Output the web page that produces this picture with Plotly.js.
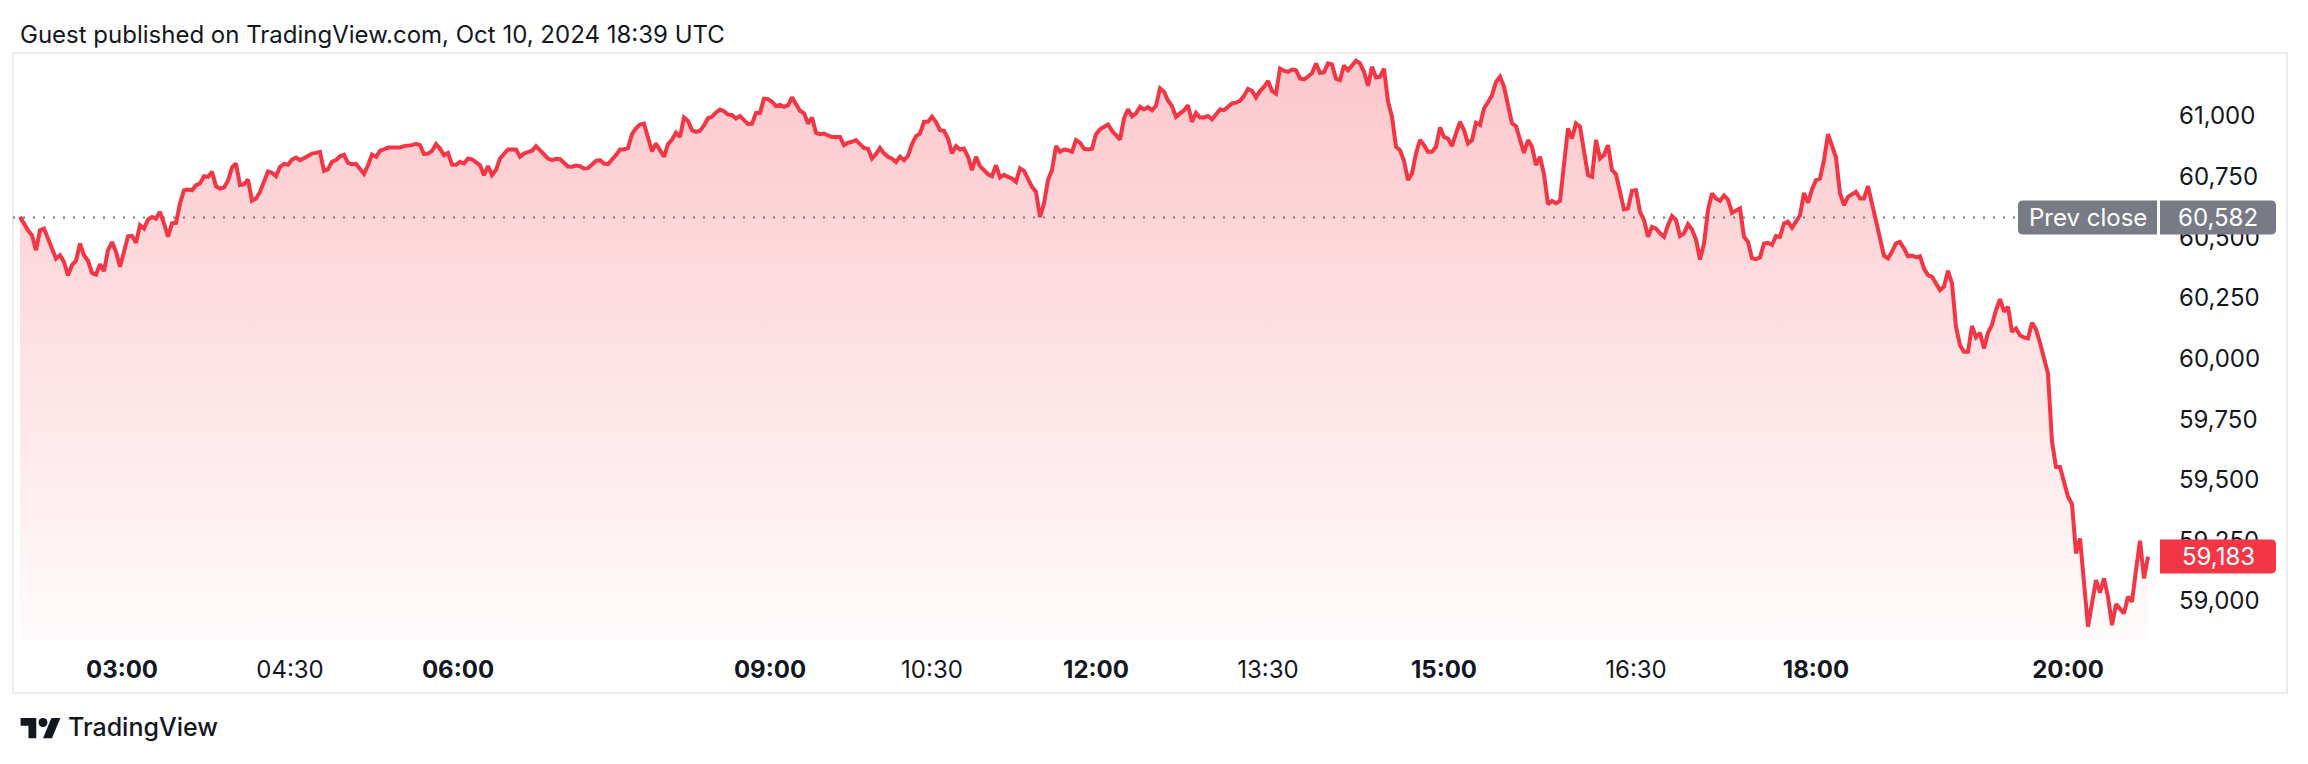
<!DOCTYPE html>
<html>
<head>
<meta charset="utf-8">
<script src="https://cdn.plot.ly/plotly-3.0.1.min.js"></script>
<style>
  html, body { margin: 0; padding: 0; background: #ffffff; }
  #chart { width: 2308px; height: 764px; }
</style>
</head>
<body>
<div id="chart"></div>
<script>
// ---------------- DATA ----------------
const titleText = "Guest published on TradingView.com, Oct 10, 2024 18:39 UTC";
const prevClose = 60582;

// BTC price, evenly spaced samples across the session
const price = [
  60584, 60552, 60529, 60508, 60447, 60529, 60536, 60495, 60449, 60412,
  60426, 60398, 60343, 60385, 60403, 60474, 60426, 60403, 60353, 60346,
  60389, 60360, 60447, 60480, 60440, 60378, 60440, 60504, 60506, 60477,
  60550, 60536, 60573, 60584, 60577, 60605, 60557, 60502, 60557, 60559,
  60639, 60694, 60697, 60694, 60715, 60722, 60752, 60749, 60770, 60711,
  60701, 60705, 60733, 60788, 60804, 60715, 60719, 60738, 60650, 60660,
  60687, 60735, 60771, 60766, 60752, 60790, 60803, 60799, 60820, 60829,
  60818, 60826, 60836, 60845, 60848, 60852, 60774, 60781, 60811, 60818,
  60834, 60840, 60807, 60801, 60803, 60783, 60761, 60797, 60841, 60832,
  60856, 60863, 60870, 60870, 60870, 60870, 60876, 60877, 60880, 60885,
  60880, 60843, 60845, 60856, 60884, 60866, 60838, 60848, 60800, 60799,
  60811, 60804, 60825, 60821, 60808, 60797, 60756, 60794, 60756, 60777,
  60825, 60845, 60862, 60862, 60862, 60832, 60845, 60851,
  60857, 60876, 60859, 60840, 60825, 60818, 60824, 60822, 60809, 60792,
  60791, 60796, 60793, 60784, 60785, 60799, 60815, 60818, 60804, 60802,
  60818, 60839, 60862, 60862, 60868, 60925, 60949, 60965, 60969, 60907,
  60854, 60887, 60859, 60832, 60884, 60903, 60931, 60914, 60994, 60980,
  60942, 60935, 60939, 60961, 60991, 60997, 61015, 61027, 61020, 61006,
  61004, 60990, 61000, 60983, 60967, 60968, 61013, 61013, 61072, 61070,
  61059, 61041, 61046, 61038, 61044, 61077, 61052, 61022, 61011, 60969,
  60994, 60931, 60925, 60928, 60920, 60914, 60914, 60914, 60880, 60890,
  60894, 60901, 60884, 60868, 60865, 60825, 60843, 60868, 60846, 60832,
  60824, 60810, 60832, 60818, 60836, 60884, 60917, 60927, 60976, 60976,
  60997, 60975, 60942, 60939, 60907, 60846, 60876, 60862, 60866, 60832,
  60777, 60832, 60793, 60774, 60760, 60752, 60797, 60747, 60758, 60749,
  60742, 60729, 60784, 60774, 60736, 60708, 60687, 60584,
  60639, 60736, 60777, 60876, 60852, 60862, 60859, 60852, 60901, 60890,
  60865, 60862, 60865, 60925, 60945, 60956, 60965, 60939, 60920, 60903,
  60990, 61028, 60999, 61011, 61038, 61027, 61037, 61024, 61042, 61114,
  61100, 61064, 61041, 60997, 61011, 61024, 61045, 60976, 61013, 60994,
  60994, 61000, 60986, 61008, 61027, 61024, 61038, 61052, 61055, 61063,
  61082, 61112, 61104, 61077, 61103, 61120, 61144, 61104, 61093, 61196,
  61187, 61182, 61192, 61189, 61155, 61151, 61163, 61176, 61217, 61178,
  61181, 61217, 61213, 61154, 61148, 61208, 61189, 61206, 61228, 61217,
  61182, 61125, 61203, 61159, 61162, 61195, 61060, 60997, 60873, 60859,
  60815, 60736, 60763, 60846, 60901, 60880, 60853, 60853, 60873, 60953,
  60914, 60907, 60876, 60928, 60976, 60942, 60887, 60901, 60972, 60963,
  61031, 61057, 61086, 61141, 61162, 61121, 61045, 60970, 60958, 60901,
  60848, 60901, 60873, 60798, 60832, 60760, 60636, 60650, 60640, 60650,
  60784, 60949, 60907, 60969, 60956, 60852, 60756, 60749, 60901, 60825,
  60839, 60880, 60777, 60760, 60687, 60615, 60619, 60692, 60694, 60605,
  60571, 60502, 60543, 60536, 60516, 60502, 60550, 60588, 60571, 60505,
  60516, 60554, 60532, 60491, 60408, 60474, 60612, 60681, 60660, 60650,
  60672, 60656, 60601, 60612, 60619, 60502, 60481, 60413, 60410, 60417,
  60474, 60477, 60468, 60505, 60502, 60557, 60564, 60539, 60564, 60591,
  60683, 60642, 60697, 60736, 60742, 60818, 60925, 60876, 60829, 60681,
  60633, 60667, 60678, 60688, 60660, 60660, 60711, 60642, 60557, 60488,
  60424, 60413, 60440, 60475, 60481, 60454, 60422, 60425, 60417, 60422,
  60371, 60344, 60337, 60310, 60282, 60296, 60362, 60310, 60131, 60055,
  60028, 60028, 60134, 60087, 60106, 60041, 60106, 60139, 60200, 60245,
  60193, 60213, 60110, 60124, 60096, 60087, 60083, 60147, 60120, 60065,
  60007, 59938, 59657, 59553, 59553, 59498, 59430, 59400, 59196, 59258,
  59072, 58894, 58990, 59086, 59034, 59093, 59017, 58900, 58987, 58969,
  58949, 59017, 58997, 59127, 59248, 59093, 59183
];

// time labels and the sample index at which each falls
const timeLabels = ["03:00", "04:30", "06:00", "09:00", "10:30", "12:00", "13:30", "15:00", "16:30", "18:00", "20:00"];
const timeIndex  = [25.5, 67.5, 109.5, 187.5, 228, 269, 312, 356, 404, 449, 512];

// price scale ticks
const priceTicks = [59000, 59250, 59500, 59750, 60000, 60250, 60500, 60750, 61000];

// ---------------- LAYOUT HELPERS ----------------
const W = 2308, H = 764;
const L = 13, R = 2158, T = 53, B = 640;
const PW = R - L, PH = B - T;
const px = x => (x - L) / PW;
const py = y => (B - y) / PH;
const fmt = v => v.toLocaleString('en-US');

const RED = '#F23645';
const GRAY = '#787B86';
const TXT = '#131722';
const FONT = 'Inter, "Noto Sans", Roboto, sans-serif';

const idx = price.map((_, i) => i);
const lastVal = price[price.length - 1];

function rrect(x0, x1, h, rl, rr) {
  const y0 = -h / 2, y1 = h / 2;
  return `M ${x0 + rl},${y0} L ${x1 - rr},${y0} Q ${x1},${y0} ${x1},${y0 + rr} ` +
         `L ${x1},${y1 - rr} Q ${x1},${y1} ${x1 - rr},${y1} L ${x0 + rl},${y1} ` +
         `Q ${x0},${y1} ${x0},${y1 - rl} L ${x0},${y0 + rl} Q ${x0},${y0} ${x0 + rl},${y0} Z`;
}

// TradingView logo (absolute coords of the 36x28 glyph)
const LS = 1.12;
const logoPolys = [
  [[14,22],[7,22],[7,11],[0,11],[0,4],[14,4]],
  [[28,22],[20,22],[27.5,4],[35.5,4]]
];
const logoPath = logoPolys.map(poly =>
  'M ' + poly.map(p => `${(p[0]*LS).toFixed(2)},${(-p[1]*LS).toFixed(2)}`).join(' L ') + ' Z'
).join(' ');
const logoX = 20.6, logoY = 713.5;

const trace = {
  x: idx,
  y: price,
  type: 'scatter',
  mode: 'lines',
  line: { color: RED, width: 4 },
  fill: 'tozeroy',
  fillgradient: {
    type: 'vertical',
    start: 58839,
    stop: 61260,
    colorscale: [[0, 'rgba(242,54,69,0.02)'], [1, 'rgba(242,54,69,0.28)']]
  },
  hoverinfo: 'skip'
};

const layout = {
  width: W, height: H,
  margin: { l: L, r: W - R, t: T, b: H - B, pad: 0 },
  paper_bgcolor: '#ffffff',
  plot_bgcolor: 'rgba(0,0,0,0)',
  showlegend: false,
  font: { family: FONT, size: 24, color: TXT },
  xaxis: {
    range: [(L - 20) / 4, (R - 20) / 4],
    showgrid: false, zeroline: false, showline: false, ticks: '',
    tickmode: 'array',
    tickvals: timeIndex,
    ticktext: timeLabels.map(t => t.endsWith(':00') ? `<b>${t}</b>` : t),
    tickfont: { family: FONT, size: 24, color: TXT },
    ticklabelstandoff: 13,
    fixedrange: true
  },
  yaxis: {
    side: 'right',
    range: [58839, 61260],
    showgrid: false, zeroline: false, showline: false, ticks: '',
    tickmode: 'array',
    tickvals: priceTicks,
    ticktext: priceTicks.map(fmt),
    tickfont: { family: FONT, size: 24, color: TXT },
    ticklabelstandoff: 20,
    fixedrange: true
  },
  shapes: [
    // outer frame
    { type: 'rect', xref: 'paper', yref: 'paper', x0: px(13), x1: px(2287), y0: py(693), y1: py(53),
      line: { color: '#E9EBF1', width: 2 }, fillcolor: 'rgba(0,0,0,0)', layer: 'below' },
    // previous close dotted line
    { type: 'line', xref: 'paper', yref: 'y', x0: 0, x1: px(2018), y0: prevClose, y1: prevClose,
      line: { color: GRAY, width: 2, dash: '2px,8px' }, layer: 'below' },
    // prev close label boxes
    { type: 'path', xref: 'paper', yref: 'y', xsizemode: 'pixel', ysizemode: 'pixel',
      xanchor: 1, yanchor: prevClose, path: rrect(-140, -1, 34, 5, 0),
      fillcolor: GRAY, line: { width: 0 }, layer: 'above' },
    { type: 'path', xref: 'paper', yref: 'y', xsizemode: 'pixel', ysizemode: 'pixel',
      xanchor: 1, yanchor: prevClose, path: rrect(2, 118, 34, 0, 5),
      fillcolor: GRAY, line: { width: 0 }, layer: 'above' },
    // last value box
    { type: 'path', xref: 'paper', yref: 'y', xsizemode: 'pixel', ysizemode: 'pixel',
      xanchor: 1, yanchor: lastVal, path: rrect(2, 118, 34, 0, 5),
      fillcolor: RED, line: { width: 0 }, layer: 'above' },
    // logo glyph
    { type: 'path', xref: 'paper', yref: 'paper', xsizemode: 'pixel', ysizemode: 'pixel',
      xanchor: px(logoX), yanchor: py(logoY), path: logoPath,
      fillcolor: TXT, line: { width: 0 }, layer: 'above' },
    { type: 'circle', xref: 'paper', yref: 'paper', xsizemode: 'pixel', ysizemode: 'pixel',
      xanchor: px(logoX), yanchor: py(logoY),
      x0: 16 * LS, x1: 24 * LS, y0: -4 * LS, y1: -12 * LS,
      fillcolor: TXT, line: { width: 0 }, layer: 'above' }
  ],
  annotations: [
    { text: titleText, xref: 'paper', yref: 'paper', x: px(18), y: py(35),
      xanchor: 'left', yanchor: 'middle', showarrow: false,
      font: { family: FONT, size: 24, color: TXT } },
    { text: 'Prev close', xref: 'paper', yref: 'y', x: px(2088), y: prevClose,
      xanchor: 'center', yanchor: 'middle', showarrow: false,
      font: { family: FONT, size: 24, color: '#ffffff' } },
    { text: fmt(prevClose), xref: 'paper', yref: 'y', x: px(2218), y: prevClose,
      xanchor: 'center', yanchor: 'middle', showarrow: false,
      font: { family: FONT, size: 24, color: '#ffffff' } },
    { text: fmt(lastVal), xref: 'paper', yref: 'y', x: px(2218), y: lastVal,
      xanchor: 'center', yanchor: 'middle', showarrow: false,
      font: { family: FONT, size: 24, color: '#ffffff' } },
    { text: 'TradingView', xref: 'paper', yref: 'paper', x: px(66), y: py(727),
      xanchor: 'left', yanchor: 'middle', showarrow: false,
      font: { family: FONT, size: 25, color: TXT, weight: 500 } }
  ]
};

Plotly.newPlot('chart', [trace], layout, { displayModeBar: false, staticPlot: true });
</script>
</body>
</html>
